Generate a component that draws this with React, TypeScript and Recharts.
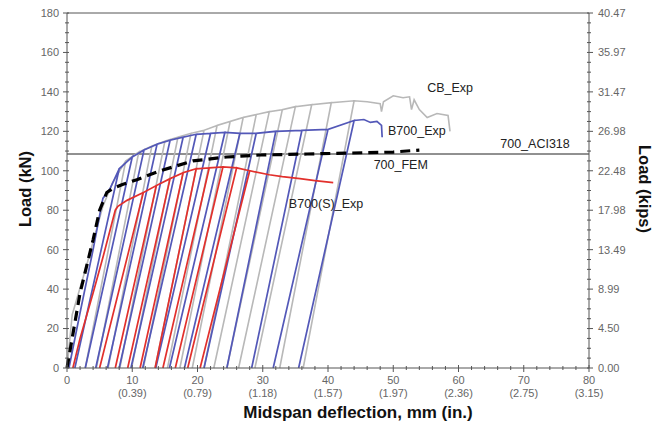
import {
  LineChart,
  Line,
  XAxis,
  YAxis,
  ReferenceLine,
  ReferenceDot,
} from 'recharts';

// deflection (mm) / load (kN)
type Pt = [number, number];

// CB_Exp (grey)
const cbStart: Pt[] = [[0, 0], [0.8, 27], [3, 52], [5.5, 82], [7, 94]];
const cbPeaks = [9, 11, 13, 15, 17, 19, 21, 23, 25, 27, 29, 31, 33, 35, 37.5, 40.5, 44];
const cbLoads = [105, 109.5, 112.5, 115, 117, 119, 120.5, 123, 125, 127, 128.5, 130, 131, 132.5, 133.5, 134.5, 135.5];
const cbResidual = [2.8, 4.5, 6.3, 8.1, 9.9, 11.7, 13.5, 15.4, 17.3, 19.2, 21, 22.5, 24.5, 26.3, 28.8, 32.6, 36.2];
const cbTail: Pt[] = [
  [46, 135], [48, 134], [48.2, 130], [48.5, 135], [50, 138], [51.5, 137], [52.5, 137.5],
  [52.8, 131], [53.2, 136], [54, 131], [55.2, 127], [56.7, 129], [58.4, 128], [58.7, 120],
];

// B700_Exp (blue)
const b7Start: Pt[] = [[0.3, 0], [2, 28], [4, 60], [5.5, 86], [6.6, 91]];
const b7Peaks = [8, 10, 11.8, 13.8, 15.8, 17.8, 19.8, 22, 24.2, 26.5, 29, 32, 36, 40, 44];
const b7Loads = [101, 107, 110.5, 113.5, 115.5, 117, 118.5, 119, 119.5, 119, 119, 120, 120.5, 121, 125.5];
const b7Residual = [1.2, 2.8, 4.4, 6.2, 8, 9.8, 11.6, 13.6, 15.7, 18, 21, 24.5, 28.3, 31.6, 35.5];
const b7Tail: Pt[] = [[45.5, 126], [46.5, 124.5], [47.5, 125], [48.2, 123], [48.3, 117]];

// B700(S)_Exp (red)
const b7sStart: Pt[] = [[0.9, 0], [2, 15], [4, 38], [5.5, 56], [7.4, 80], [7.8, 82], [9.2, 85]];
const b7sPeaks = [11.7, 13.7, 15.8, 17.8, 19.8, 21.8, 23.9, 26, 28];
const b7sLoads = [89, 92.5, 96, 99, 101, 101.5, 102, 101.5, 100];
const b7sResidual = [5, 7.4, 9.3, 11.2, 13.5, 14.7, 16.6, 18.5, 20.4];
const b7sTail: Pt[] = [[31, 98], [33, 97], [35.7, 96], [38, 95], [40.8, 94]];

// 700_FEM (dashed)
const femCurve: Pt[] = [
  [0, 0], [2, 38], [4, 65], [5, 80], [6.1, 89], [7, 91], [8.5, 93], [10.7, 95.5], [14.3, 100],
  [19.3, 105], [24.5, 107], [29.6, 108], [36.8, 108.5], [43.4, 109], [50, 109.5], [54, 110.5],
];

const aciLoad = 108.5;

const xTicks = [0, 2, 4, 6, 8, 10, 12, 14, 16, 18, 20, 22, 24, 26, 28, 30, 32, 34, 36, 38, 40,
  42, 44, 46, 48, 50, 52, 54, 56, 58, 60, 62, 64, 66, 68, 70, 72, 74, 76, 78, 80];
const xInchLabels = ['', '(0.39)', '(0.79)', '(1.18)', '(1.57)', '(1.97)', '(2.36)', '(2.75)', '(3.15)'];
const yTicks = [0, 5, 10, 15, 20, 25, 30, 35, 40, 45, 50, 55, 60, 65, 70, 75, 80, 85, 90, 95, 100,
  105, 110, 115, 120, 125, 130, 135, 140, 145, 150, 155, 160, 165, 170, 175, 180];
const kipsLabels = ['0.00', '4.50', '8.99', '13.49', '17.98', '22.48', '26.98', '31.47', '35.97', '40.47'];

const curveLabels = [
  { x: 55.2, y: 142, text: 'CB_Exp' },
  { x: 49.2, y: 120.2, text: 'B700_Exp' },
  { x: 47, y: 103.4, text: '700_FEM' },
  { x: 34, y: 83.2, text: 'B700(S)_Exp' },
  { x: 66.4, y: 113.6, text: '700_ACI318' },
];

function buildPath(start: Pt[], peaks: number[], loads: number[], residual: number[], tail: Pt[]) {
  const pts: Pt[] = [...start];
  peaks.forEach((p, i) => {
    pts.push([p, loads[i]], [residual[i], 0], [p, loads[i]]);
  });
  pts.push(...tail);
  return pts.map(([x, y]) => ({ x, y }));
}

const cbData = buildPath(cbStart, cbPeaks, cbLoads, cbResidual, cbTail);
const b7Data = buildPath(b7Start, b7Peaks, b7Loads, b7Residual, b7Tail);
const b7sData = buildPath(b7sStart, b7sPeaks, b7sLoads, b7sResidual, b7sTail);
const femData = femCurve.map(([x, y]) => ({ x, y }));

const FONT = '"Liberation Sans", Arial, sans-serif';
const AXIS = '#555';

const XTick = (props: any) => {
  const { x, y, payload } = props;
  const v = payload.value;
  const major = v % 10 === 0;
  return (
    <g>
      <line x1={x} x2={x} y1={y - (major ? 3 : 2)} y2={y + (major ? 4 : 2)} stroke={AXIS} />
      {major && (
        <text x={x} y={y + 16} textAnchor="middle" fontSize={11} fill="#666" fontFamily={FONT}>
          {v}
        </text>
      )}
      {major && v > 0 && (
        <text x={x} y={y + 29} textAnchor="middle" fontSize={11} fill="#666" fontFamily={FONT}>
          {xInchLabels[v / 10]}
        </text>
      )}
    </g>
  );
};

const LeftTick = (props: any) => {
  const { x, y, payload } = props;
  const v = payload.value;
  const major = v % 20 === 0;
  return (
    <g>
      <line x1={x - (major ? 4 : 2)} x2={x + 2} y1={y} y2={y} stroke={AXIS} />
      {major && (
        <text x={x - 8} y={y} dy="0.35em" textAnchor="end" fontSize={11} fill="#666" fontFamily={FONT}>
          {v}
        </text>
      )}
    </g>
  );
};

const RightTick = (props: any) => {
  const { x, y, payload } = props;
  const v = payload.value;
  const major = v % 20 === 0;
  return (
    <g>
      <line x1={x - 2} x2={x + (major ? 4 : 2)} y1={y} y2={y} stroke={AXIS} />
      {major && (
        <text x={x + 9} y={y} dy="0.35em" textAnchor="start" fontSize={11} fill="#666" fontFamily={FONT}>
          {kipsLabels[v / 20]}
        </text>
      )}
    </g>
  );
};

export default function App() {
  return (
    <div style={{ position: 'relative', width: 651, height: 419, background: '#fff' }}>
      <LineChart width={651} height={411} margin={{ top: 5, right: 10, bottom: 21, left: 9 }}>
        <XAxis
          type="number"
          dataKey="x"
          domain={[0, 80]}
          ticks={xTicks}
          interval={0}
          tick={<XTick />}
          tickLine={false}
          tickSize={0}
          tickMargin={0}
          height={30}
          stroke={AXIS}
          allowDuplicatedCategory={false}
        />
        <YAxis
          yAxisId="left"
          type="number"
          domain={[0, 180]}
          ticks={yTicks}
          interval={0}
          tick={<LeftTick />}
          tickLine={false}
          tickSize={0}
          tickMargin={0}
          width={50}
          stroke={AXIS}
        />
        <YAxis
          yAxisId="right"
          orientation="right"
          type="number"
          domain={[0, 180]}
          ticks={yTicks}
          interval={0}
          tick={<RightTick />}
          tickLine={false}
          tickSize={0}
          tickMargin={0}
          width={60}
          stroke={AXIS}
        />
        <ReferenceLine yAxisId="left" y={180} stroke={AXIS} />
        <ReferenceLine yAxisId="left" y={aciLoad} stroke="#222" strokeWidth={1} />
        <Line yAxisId="left" data={cbData} dataKey="y" type="linear" dot={false} stroke="#b8b8b8" strokeWidth={1.6} isAnimationActive={false} />
        <Line yAxisId="left" data={b7Data} dataKey="y" type="linear" dot={false} stroke="#5358b8" strokeWidth={1.7} isAnimationActive={false} />
        <Line yAxisId="left" data={b7sData} dataKey="y" type="linear" dot={false} stroke="#e2302c" strokeWidth={1.7} isAnimationActive={false} />
        {/* same 0-180 kN domain on both sides; FEM hangs on the right one so that axis is drawn */}
        <Line yAxisId="right" data={femData} dataKey="y" type="linear" dot={false} stroke="#000" strokeWidth={3.2} strokeDasharray="10 6" isAnimationActive={false} />
        {curveLabels.map((l) => (
          <ReferenceDot
            key={l.text}
            yAxisId="left"
            x={l.x}
            y={l.y}
            r={0}
            stroke="none"
            fill="none"
            label={{ value: l.text, position: 'right', offset: 0, fontSize: 12.5, fill: '#222', fontFamily: FONT }}
          />
        ))}
      </LineChart>
      <svg width={651} height={419} style={{ position: 'absolute', left: 0, top: 0, pointerEvents: 'none' }}>
        <text x={17} y={181} transform="rotate(-90 17 181)" textAnchor="middle" dominantBaseline="central" fontSize={16.5} fontWeight="bold" fontFamily={FONT} fill="#111">
          Load (kN)
        </text>
        <text x={637} y={181} transform="rotate(90 637 181)" textAnchor="middle" dominantBaseline="central" fontSize={16.5} fontWeight="bold" fontFamily={FONT} fill="#111">
          Load (kips)
        </text>
        <text x={350} y={404} textAnchor="middle" dominantBaseline="central" fontSize={17} fontWeight="bold" fontFamily={FONT} fill="#111">
          Midspan deflection, mm (in.)
        </text>
      </svg>
    </div>
  );
}
